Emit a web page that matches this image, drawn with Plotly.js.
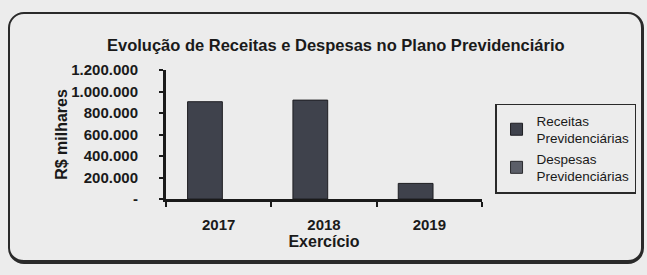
<!DOCTYPE html>
<html>
<head>
<meta charset="utf-8">
<script src="https://cdn.plot.ly/plotly-3.0.1.min.js"></script>
<style>
  html, body { margin: 0; padding: 0; background: #ececec; }
  #wrap { position: relative; width: 647px; height: 275px; overflow: hidden; }
  #chart { position: absolute; left: 0; top: 0; width: 647px; height: 275px; }
  #frame { position: absolute; left: 8px; top: 12px; width: 631px; height: 246px;
           border: 2px solid #2a2a2a; border-right-width: 3px; border-bottom-width: 4px;
           border-radius: 16px; pointer-events: none; }
</style>
</head>
<body>
<div id="wrap">
  <div id="chart"></div>
  <div id="frame"></div>
</div>
<script>
const categories = ['2017', '2018', '2019'];
const receitas = [905000, 920000, 145000];
const despesas = [null, null, null];
const yTickVals = [0, 200000, 400000, 600000, 800000, 1000000, 1200000];
const yTickText = ['-', '200.000', '400.000', '600.000', '800.000', '1.000.000', '1.200.000'];

const FONT = 'Arial, "Liberation Sans", sans-serif';

const traces = [
  {
    type: 'bar', name: 'Receitas<br>Previdenciárias',
    x: categories, y: receitas,
    width: 0.33, offset: -0.295,
    marker: { color: '#3f424c', line: { color: '#1e1e22', width: 1 } }
  },
  {
    type: 'bar', name: 'Despesas<br>Previdenciárias',
    x: categories, y: despesas,
    width: 0.33, offset: 0.035,
    marker: { color: '#5b5e68', line: { color: '#2a2a2e', width: 1 } }
  }
];

const layout = {
  width: 647, height: 275,
  paper_bgcolor: 'rgba(0,0,0,0)', plot_bgcolor: 'rgba(0,0,0,0)',
  margin: { l: 166, r: 164, t: 70, b: 76 },
  font: { family: FONT, color: '#1a1a1a' },
  barmode: 'group',
  showlegend: true,
  title: {
    text: '<b>Evolução de Receitas e Despesas no Plano Previdenciário</b>',
    font: { family: FONT, size: 16.5, color: '#1a1a1a' },
    x: 0.519, xanchor: 'center', xref: 'container',
    y: 0.836, yanchor: 'middle', yref: 'container'
  },
  xaxis: {
    type: 'category',
    showline: true, linecolor: '#1a1a1a', linewidth: 3,
    ticks: 'outside', tickson: 'boundaries', ticklen: 5, tickwidth: 2, tickcolor: '#1a1a1a',
    tickfont: { family: FONT, size: 15, color: '#1a1a1a', weight: 'bold' },
    ticklabelstandoff: 10,
    showgrid: false, zeroline: false,
    title: { text: '<b>Exercício</b>', font: { family: FONT, size: 16, color: '#1a1a1a' }, standoff: 4 }
  },
  yaxis: {
    range: [0, 1200000],
    tickvals: yTickVals, ticktext: yTickText,
    showline: true, linecolor: '#1a1a1a', linewidth: 3,
    ticks: 'outside', ticklen: 4, tickwidth: 2, tickcolor: '#1a1a1a',
    tickfont: { family: FONT, size: 15, color: '#1a1a1a', weight: 'bold' },
    ticklabelstandoff: 18,
    showgrid: false, zeroline: false,
    title: { text: '<b>R$ milhares</b>', font: { family: FONT, size: 16, color: '#1a1a1a' }, standoff: 0 }
  },
  legend: {
    x: 1.038, xanchor: 'left', y: 0.39, yanchor: 'middle',
    bgcolor: 'rgba(0,0,0,0)', bordercolor: '#2a2a2a', borderwidth: 1.5,
    font: { family: FONT, size: 13.5, color: '#1a1a1a' },
    tracegroupgap: 6
  }
};

Plotly.newPlot('chart', traces, layout, { displayModeBar: false, staticPlot: true });
</script>
</body>
</html>
